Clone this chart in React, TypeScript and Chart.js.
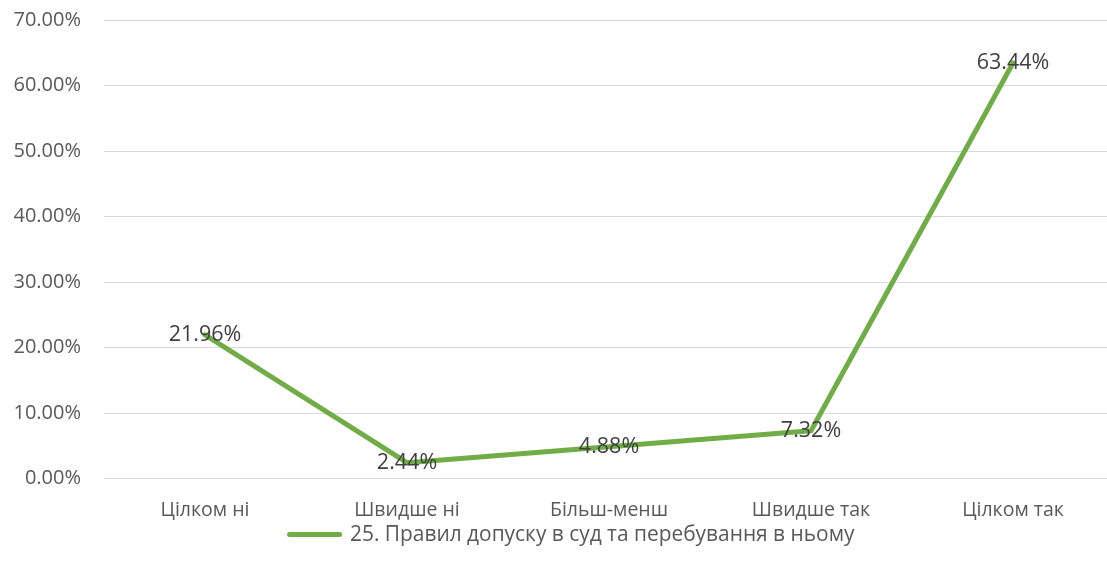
import React, { useEffect, useRef } from "react";
import { Chart, registerables } from "chart.js";

Chart.register(...registerables);

const categories = ["Цілком ні", "Швидше ні", "Більш-менш", "Швидше так", "Цілком так"];
const seriesLabel = "25. Правил допуску в суд та перебування в ньому";
const seriesValues = [21.96, 2.44, 4.88, 7.32, 63.44];
const yTicks = [0, 10, 20, 30, 40, 50, 60, 70];

const FONT = "'Open Sans', 'Noto Sans', sans-serif";
const GREEN = "#70AD47";

const dataLabelPlugin = {
  id: "dataLabels",
  afterDatasetsDraw(chart: any) {
    const ctx = chart.ctx;
    const meta = chart.getDatasetMeta(0);
    ctx.save();
    ctx.font = `21.5px ${FONT}`;
    ctx.fillStyle = "#404040";
    ctx.textAlign = "center";
    ctx.textBaseline = "middle";
    meta.data.forEach((pt: any, i: number) => {
      ctx.fillText(seriesValues[i].toFixed(2) + "%", pt.x, pt.y);
    });
    ctx.restore();
  },
};

const legendShiftPlugin = {
  id: "legendShift",
  afterLayout(chart: any) {
    if (chart.legend) {
      chart.legend.left += 30;
    }
  },
};

export default function App() {
  const ref = useRef<HTMLCanvasElement | null>(null);
  useEffect(() => {
    document.body.style.margin = "0";
    document.body.style.overflow = "hidden";
    const canvas = ref.current!;
    const chart = new Chart(canvas, {
      type: "line",
      data: {
        labels: categories,
        datasets: [
          {
            label: seriesLabel,
            data: seriesValues,
            borderColor: GREEN,
            backgroundColor: GREEN,
            borderWidth: 5,
            pointRadius: 0,
            pointHoverRadius: 0,
            tension: 0,
            borderCapStyle: "round",
            borderJoinStyle: "round",
          },
        ],
      },
      options: {
        responsive: false,
        animation: false,
        layout: { padding: { top: 20, right: 1, left: 0, bottom: 19 } },
        plugins: {
          tooltip: { enabled: false },
          legend: {
            position: "bottom",
            labels: {
              color: "#595959",
              font: { family: FONT, size: 20.9 },
              usePointStyle: true,
              pointStyleWidth: 50,
              boxHeight: 17,
              padding: 0,
              generateLabels: () => [
                {
                  text: seriesLabel,
                  pointStyle: "line",
                  strokeStyle: GREEN,
                  fillStyle: GREEN,
                  lineWidth: 5,
                  lineCap: "round",
                  hidden: false,
                  datasetIndex: 0,
                  fontColor: "#595959",
                } as any,
              ],
            },
          },
        },
        scales: {
          x: {
            offset: true,
            grid: { display: false, offset: true },
            border: { display: false },
            afterFit: (scale: any) => {
              scale.height = scale.height - 10;
            },
            ticks: {
              color: "#595959",
              font: { family: FONT, size: 19.5 },
              padding: 12,
              maxRotation: 0,
            },
          },
          y: {
            min: 0,
            max: 70,
            afterFit: (scale: any) => {
              scale.width = 104;
              scale.paddingTop = 0;
              scale.paddingBottom = 0;
            },
            afterBuildTicks: (scale: any) => {
              scale.ticks = yTicks.map((v) => ({ value: v }));
            },
            grid: { color: "#D9D9D9", lineWidth: 1, drawTicks: false },
            border: { display: false },
            ticks: {
              color: "#595959",
              font: { family: FONT, size: 20 },
              padding: 23,
              callback: (v: any) => Number(v).toFixed(2) + "%",
            },
          },
        },
      },
      plugins: [dataLabelPlugin, legendShiftPlugin],
    });
    return () => chart.destroy();
  }, []);
  return (
    <div style={{ width: 1107, height: 574, overflow: "hidden" }}>
      <canvas ref={ref} width={1115} height={574} style={{ display: "block" }} />
    </div>
  );
}
